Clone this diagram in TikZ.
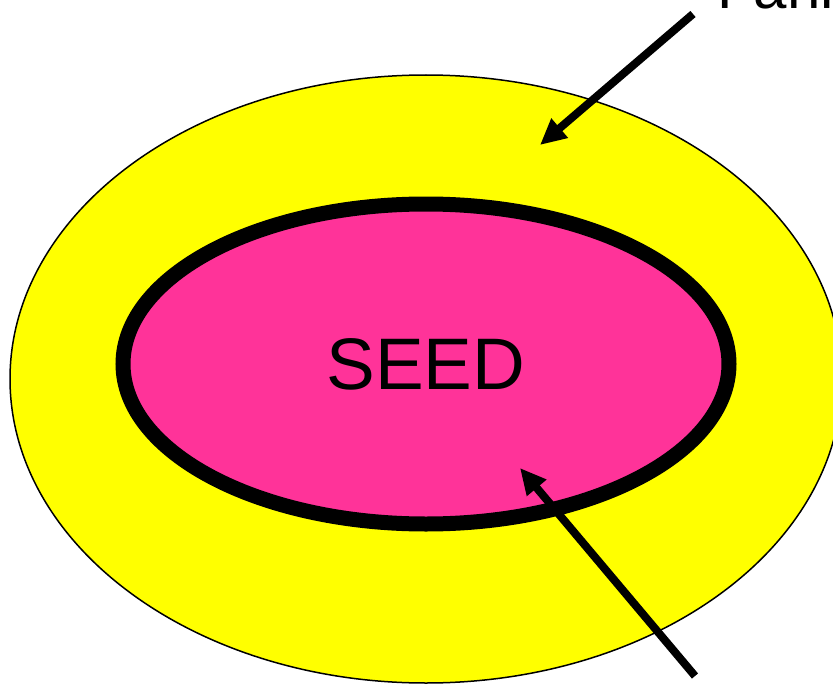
\documentclass[tikz,border=0pt]{standalone}
\usepackage{fontspec}
\setmainfont{Liberation Sans}
\usetikzlibrary{shapes.geometric,arrows.meta}
\definecolor{fruityellow}{RGB}{255,255,0}
\definecolor{seedpink}{RGB}{255,51,153}

\begin{document}
\begin{tikzpicture}[x=1pt,y=-1pt,
  layer/.style={ellipse,inner sep=0pt,outer sep=0pt},
  pointer/.style={line width=8pt,-{Triangle[length=26pt,width=24pt]}}]
\useasboundingbox (0,0) rectangle (833,685);
\clip (0,0) rectangle (833,685);
\node[layer,fill=fruityellow,draw,line width=1.5pt,minimum width=832,minimum height=608] (fruit) at (426,379) {};
\node[layer,fill=seedpink,draw,line width=15pt,minimum width=606,minimum height=320,
  font=\fontsize{73}{86}\selectfont] (seed) at (426,364) {SEED};
\node[anchor=base west,font=\fontsize{60}{72}\selectfont,inner sep=0pt] (label) at (717,9) {Fank};
\coordinate (topstart) at (693,14);
\coordinate (toptip) at (540,145);
\coordinate (botstart) at (695,676);
\coordinate (bottip) at (520,468);
\draw[pointer] (topstart) -- (toptip);
\draw[pointer] (botstart) -- (bottip);
\end{tikzpicture}
\end{document}
